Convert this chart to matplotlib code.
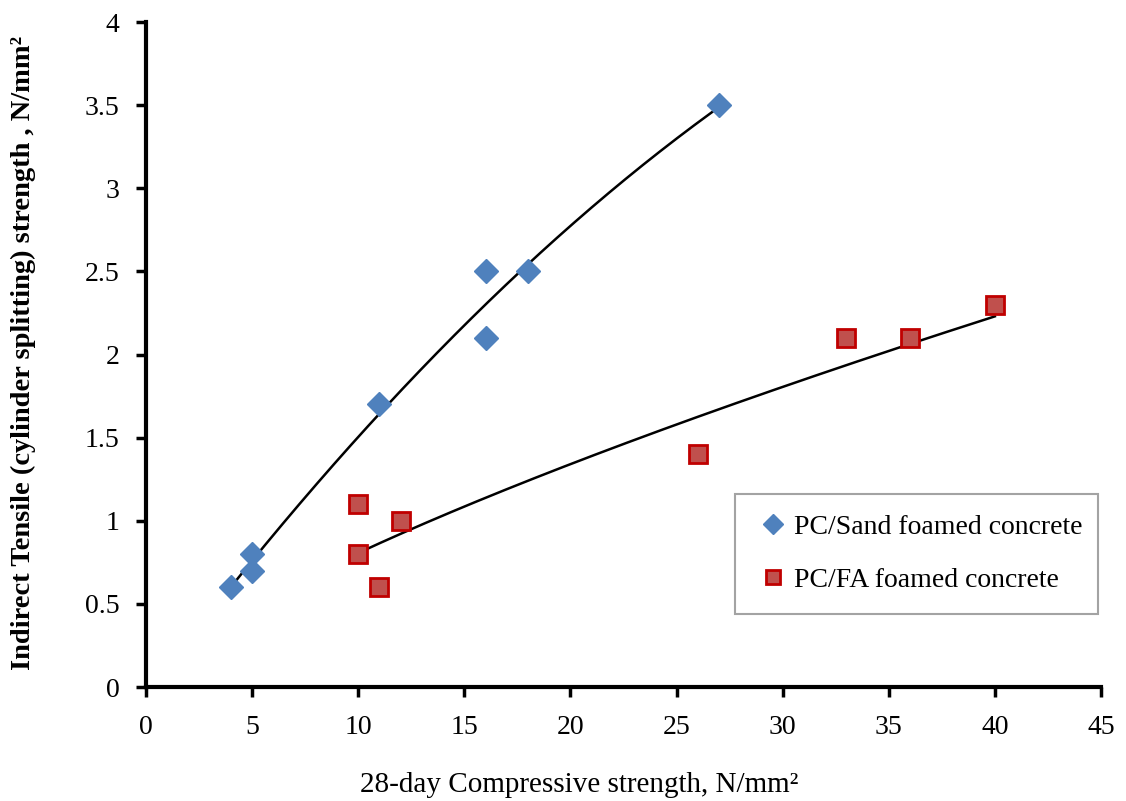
import numpy as np
import matplotlib
matplotlib.use('Agg')
import matplotlib.pyplot as plt

plt.rcParams['font.family'] = ['Liberation Serif', 'DejaVu Serif']

# PC/Sand foamed concrete
sand_x = [4, 5, 5, 11, 16, 16, 18, 27]
sand_y = [0.6, 0.8, 0.7, 1.7, 2.5, 2.1, 2.5, 3.5]
# PC/FA foamed concrete
fa_x = [10, 10, 11, 12, 26, 33, 36, 40]
fa_y = [1.1, 0.8, 0.6, 1.0, 1.4, 2.1, 2.1, 2.3]

xticks = np.arange(0, 46, 5)
yticks = [0, 0.5, 1, 1.5, 2, 2.5, 3, 3.5, 4]
ytick_labels = ['0', '0.5', '1', '1.5', '2', '2.5', '3', '3.5', '4']


def poly_fit(x, y):
    # 2nd order polynomial trendline
    c = np.polyfit(x, y, 2)
    xs = np.linspace(min(x), max(x), 200)
    return xs, np.polyval(c, xs)


def power_fit(x, y):
    # y = a * x^b, least squares in log space
    b, loga = np.polyfit(np.log(x), np.log(y), 1)
    xs = np.linspace(min(x), max(x), 200)
    return xs, np.exp(loga) * xs ** b


fig = plt.figure(figsize=(11.26, 8.01), dpi=100)
ax = fig.add_axes([0.1297, 0.1423, 0.8481, 0.8302])

xs, ys = poly_fit(sand_x, sand_y)
ax.plot(xs, ys, color='black', lw=1.8, zorder=2)
xs, ys = power_fit(fa_x, fa_y)
ax.plot(xs, ys, color='black', lw=1.8, zorder=2)

ax.plot(sand_x, sand_y, ls='none', marker='D', ms=12.5, mfc='#4F81BD', mec='#4F81BD',
        mew=1, label='PC/Sand foamed concrete', zorder=3)
ax.plot(fa_x, fa_y, ls='none', marker='s', ms=12.5, mfc='#C0504D', mec='#C00000',
        mew=2, label='PC/FA foamed concrete', zorder=3)

ax.set_xlim(0, 45)
ax.set_ylim(0, 4)
ax.set_xticks(xticks)
ax.set_yticks(yticks)
ax.set_yticklabels(ytick_labels)
ax.tick_params(direction='out', length=7, width=2.5, labelsize=20, pad=12)
ax.tick_params(axis='x', pad=13)
for s in ['top', 'right']:
    ax.spines[s].set_visible(False)
for s in ['left', 'bottom']:
    ax.spines[s].set_linewidth(3)

fig.text(0.514, 0.004, '28-day Compressive strength, N/mm²', ha='center',
         va='bottom', fontsize=21)
fig.text(0.021, 0.56, 'Indirect Tensile (cylinder splitting) strength , N/mm²',
         ha='center', va='center', rotation=90, fontsize=20.5, fontweight='bold')

leg = ax.legend(loc='lower left', bbox_to_anchor=(0.617, 0.110, 0.380, 0.174),
                mode='expand', fontsize=20, frameon=True, fancybox=False,
                handlelength=1.2, handletextpad=0.15, labelspacing=1.0,
                borderpad=0.75, markerscale=0.8, borderaxespad=0)
leg.get_frame().set_edgecolor('#8C8C8C')
leg.get_frame().set_linewidth(1.5)

fig.savefig('out.png', dpi=100)
